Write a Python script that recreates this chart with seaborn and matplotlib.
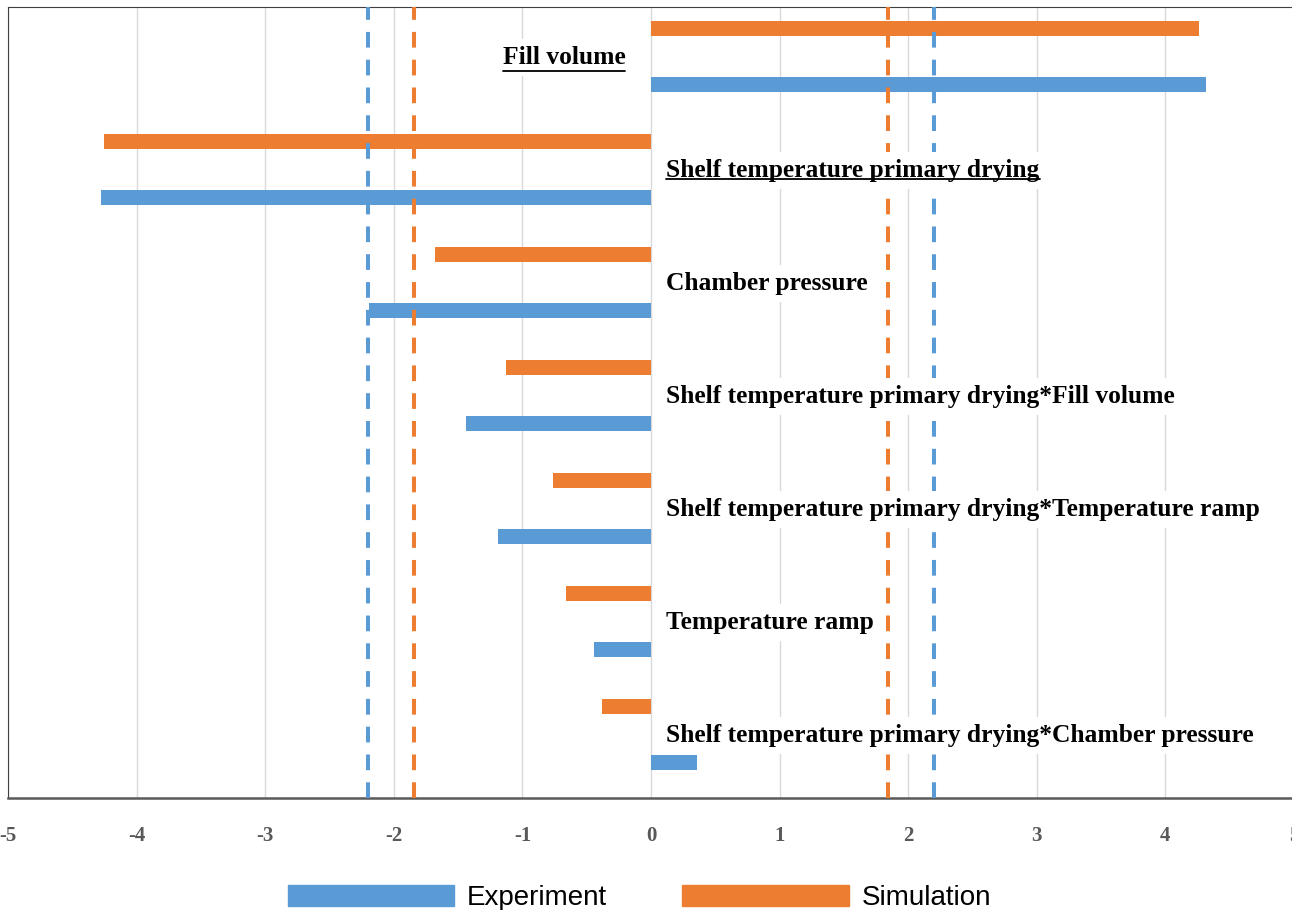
import pandas as pd
import matplotlib
matplotlib.use("Agg")
import matplotlib.pyplot as plt
import seaborn as sns
from matplotlib.patches import Patch
from matplotlib.lines import Line2D

# Effect sizes per factor
factors = [
    "Fill volume",
    "Shelf temperature primary drying",
    "Chamber pressure",
    "Shelf temperature primary drying*Fill volume",
    "Shelf temperature primary drying*Temperature ramp",
    "Temperature ramp",
    "Shelf temperature primary drying*Chamber pressure",
]
experiment = [4.32, -4.28, -2.19, -1.44, -1.19, -0.44, 0.36]
simulation = [4.26, -4.25, -1.68, -1.13, -0.76, -0.66, -0.38]
underlined = ["Fill volume", "Shelf temperature primary drying"]

# significance limits
exp_limit = 2.2
sim_limit = 1.84

ticks = list(range(-5, 6))

blue = "#5B9BD5"
orange = "#ED7D31"

df = pd.DataFrame({
    "factor": factors * 2,
    "effect": simulation + experiment,
    "source": ["Simulation"] * len(factors) + ["Experiment"] * len(factors),
})

sns.set_style("white")
plt.rcParams["font.family"] = ["Liberation Serif", "DejaVu Serif"]

fig = plt.figure(figsize=(12.92, 9.10), dpi=100)
ax = fig.add_axes([0.0062, 0.1231, 0.9953, 0.8692])

sns.barplot(data=df, x="effect", y="factor", hue="source",
            hue_order=["Simulation", "Experiment"],
            palette={"Simulation": orange, "Experiment": blue},
            order=factors, orient="h", width=1.0, gap=0.74, saturation=1,
            linewidth=0, legend=False, ax=ax, zorder=2)

# significance lines
for v in (-exp_limit, exp_limit):
    ax.axvline(v, color=blue, lw=2.9, linestyle=(0, (3.9, 3)), zorder=3)
for v in (-sim_limit, sim_limit):
    ax.axvline(v, color=orange, lw=2.9, linestyle=(0, (3.9, 3)), zorder=3)

ax.set_xlim(-5, 5)
ax.set_ylim(len(factors) - 0.438, -0.438)
ax.set_xticks(ticks)
ax.set_xticklabels([str(t) for t in ticks])
ax.set_yticks([])
ax.set_xlabel("")
ax.set_ylabel("")
ax.set_axisbelow(True)
ax.grid(axis="x", color="#D9D9D9", lw=1)
ax.tick_params(axis="x", length=0, pad=20, labelsize=15, labelcolor="#595959")
for lab in ax.get_xticklabels():
    lab.set_fontweight("bold")

ax.spines["right"].set_visible(False)
ax.spines["left"].set_color("#404040")
ax.spines["top"].set_color("#404040")
ax.spines["bottom"].set_color("#595959")
ax.spines["bottom"].set_linewidth(1.8)

# factor labels
texts = []
for i, name in enumerate(factors):
    if experiment[i] > 0 and simulation[i] > 0:
        x, ha = -0.2, "right"
    else:
        x, ha = 0.12, "left"
    t = ax.text(x, i + 0.01, name, ha=ha, va="center", fontsize=18.4, fontweight="bold",
                color="black", zorder=5,
                bbox=dict(boxstyle="square,pad=0.28", fc="white", ec="none"))
    texts.append(t)

# underline the main effects
fig.canvas.draw()
renderer = fig.canvas.get_renderer()
inv = fig.transFigure.inverted()
for t in texts:
    if t.get_text() in underlined:
        bb = t.get_window_extent(renderer)
        w, h, d = renderer.get_text_width_height_descent(t.get_text(), t.get_fontproperties(), ismath=False)
        yb = bb.y0 + d - 2
        (x0, y0), (x1, _) = inv.transform([(bb.x0, yb), (bb.x1, yb)])
        fig.add_artist(Line2D([x0, x1], [y0, y0], color="black", lw=1.3, zorder=6))

handles = [Patch(color=blue, label="Experiment"), Patch(color=orange, label="Simulation")]
fig.legend(handles=handles, loc="center", bbox_to_anchor=(0.495, 0.013), ncol=2,
           frameon=False, handlelength=6, handleheight=0.8, handletextpad=0.47,
           columnspacing=2.7, labelcolor="black",
           prop={"family": "Liberation Sans", "size": 20})

fig.savefig("out.png", dpi=100)
